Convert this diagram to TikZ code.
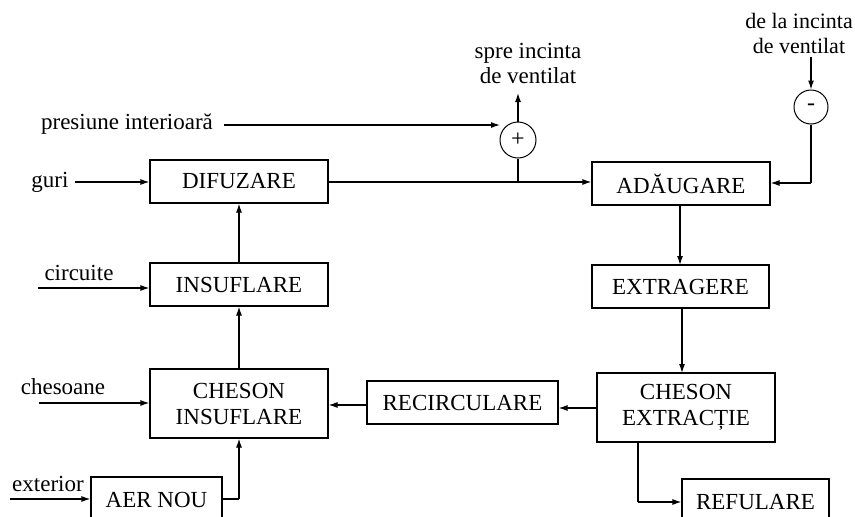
\documentclass[tikz,border=0pt]{standalone}
\usepackage{fontspec}
\setmainfont{Liberation Serif}
\usetikzlibrary{arrows.meta}
\tikzset{
  box/.style={draw, line width=1.2pt, inner sep=0pt, align=center,
    font=\fontsize{23}{26}\selectfont},
  lbl/.style={inner sep=0pt, align=center, font=\fontsize{23}{25}\selectfont},
  sum/.style={draw, circle, line width=1pt, inner sep=0pt, font=\fontsize{24}{24}\selectfont},
  conn/.style={line width=1.2pt},
  arr/.style={line width=1.2pt, -{Latex[length=9pt,width=6pt]}}
}
\begin{document}
\begin{tikzpicture}[x=1pt,y=-1pt]
\useasboundingbox (0,0) rectangle (855,517);
\begin{scope}
\clip (0,0) rectangle (855,517);
% boxes
\node[box, minimum width=178, minimum height=43] (dif) at (239,181.5) {DIFUZARE};
\node[box, minimum width=178, minimum height=43] (ins) at (239,284.5) {INSUFLARE};
\node[box, minimum width=178, minimum height=69] (chi) at (239,403.5) {CHESON\\INSUFLARE};
\node[box, minimum width=131, minimum height=46] (aer) at (156.5,500) {AER NOU};
\node[box, minimum width=178, minimum height=43] (ada) at (681,183.5) {ADĂUGARE};
\node[box, minimum width=177, minimum height=43] (ext) at (680.5,286.5) {EXTRAGERE};
\node[box, minimum width=178, minimum height=69] (che) at (686,407.5) {CHESON\\EXTRACȚIE};
\node[box, minimum width=191, minimum height=43] (rec) at (462.5,402.5) {RECIRCULARE};
\node[box, minimum width=147, minimum height=46] (ref) at (755.5,502) {REFULARE};
% summing circles
\node[sum, minimum size=36] (plus) at (518,140) {+};
\node[sum, minimum size=34] (minus) at (811,107) {-};
% labels
\node[lbl] (lguri) at (50,182) {guri};
\node[lbl] (lcirc) at (79,273) {circuite};
\node[lbl] (lches) at (63,387) {chesoane};
\node[lbl] (lext) at (48,484) {exterior};
\node[lbl] (lpres) at (127,124) {presiune interioară};
\node[lbl] (lspre) at (528,63) {spre incinta\\de ventilat};
\node[lbl, font=\fontsize{22}{25}\selectfont] (lde) at (799,33) {de la incinta\\de ventilat};
% coordinates
\coordinate (gs) at (75,182);
\coordinate (cs) at (38,288);
\coordinate (hs) at (39,403);
\coordinate (es) at (10,499);
\coordinate (ps) at (224,125);
\coordinate (pe) at (500,125);
\coordinate (j) at (518,182);
\coordinate (st) at (518,93);
\coordinate (ms) at (811,57);
\coordinate (ac) at (239,499);
\coordinate (rc) at (638,502);
% connectors
\draw[arr] (gs) -- (gs -| dif.west);
\draw[arr] (cs) -- (cs -| ins.west);
\draw[arr] (hs) -- (hs -| chi.west);
\draw[arr] (es) -- (es -| aer.west);
\draw[arr] (ps) -- (pe);
\draw[conn] (es -| aer.east) -- (ac);
\draw[arr] (ac) -- (chi.south);
\draw[arr] (chi.north) -- (ins.south);
\draw[arr] (ins.north) -- (dif.south);
\draw[arr] (j -| dif.east) -- (j -| ada.west);
\draw[conn] (plus.south) -- (j);
\draw[arr] (plus.north) -- (st);
\draw[arr] (ms) -- (minus.north);
\draw[conn] (minus.south) -- (811,183);
\draw[arr] (811,183) -- (ada.east |- 0,183);
\draw[arr] (680,205) -- (680,265);
\draw[arr] (682,308) -- (682,373);
\draw[arr] (che.west |- 0,408) -- (rec.east |- 0,408);
\draw[arr] (rec.west |- 0,405) -- (chi.east |- 0,405);
\draw[conn] (rc |- che.south) -- (rc);
\draw[arr] (rc) -- (rc -| ref.west);
\end{scope}
\end{tikzpicture}
\end{document}
